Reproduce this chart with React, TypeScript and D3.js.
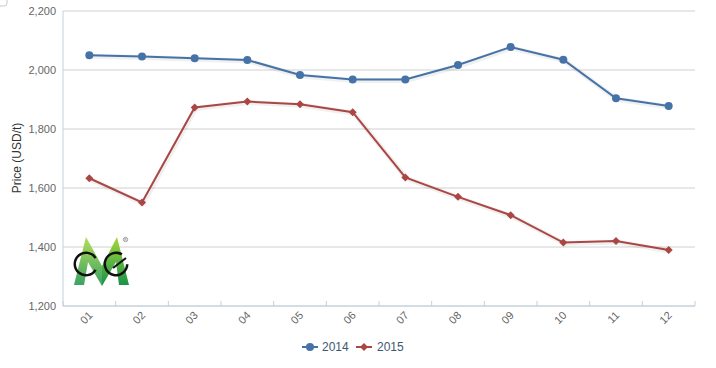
import React from "react";
import * as d3 from "d3";

const months = ["01", "02", "03", "04", "05", "06", "07", "08", "09", "10", "11", "12"];
const values2014 = [2050, 2046, 2040, 2034, 1983, 1968, 1968, 2017, 2078, 2035, 1904, 1878];
const values2015 = [1633, 1551, 1873, 1893, 1884, 1857, 1636, 1570, 1508, 1415, 1420, 1390];
const yTicks = [1200, 1400, 1600, 1800, 2000, 2200];
const seriesNames = ["2014", "2015"];

const W = 716, H = 368;
const L = 63, R = 695, T = 11, B = 306;
const BLUE = "#4572A7";
const RED = "#AA4643";
const FONT = "'Liberation Sans', Arial, Helvetica, sans-serif";

export default function App() {
  const x = d3.scaleBand<string>().domain(months).range([L, R]);
  const y = d3.scaleLinear().domain([1200, 2200]).range([B, T]);
  const bw = x.bandwidth();
  const cx = (m: string) => (x(m) as number) + bw / 2;
  const line = d3.line<number>().x((_, i) => cx(months[i])).y((d) => y(d));
  const fmt = d3.format(",");
  const diamond = (px: number, py: number, s: number) =>
    `M${px},${py - s}L${px + s},${py}L${px},${py + s}L${px - s},${py}Z`;
  const tickXs = d3.range(months.length + 1).map((i) => L + i * bw);

  const arc = d3.arc<any>();
  const c1 = arc({ innerRadius: 10, outerRadius: 12.5, startAngle: Math.PI / 2 + 0.55, endAngle: Math.PI * 2 + Math.PI / 2 - 0.55 } as any) as string;
  const c2 = arc({ innerRadius: 10, outerRadius: 12.5, startAngle: 1.6, endAngle: Math.PI * 2 + 0.55 } as any) as string;

  return (
    <svg width={W} height={H} style={{ position: "absolute", left: 0, top: 0, background: "#fff" }} fontFamily={FONT}>
      <defs>
        <linearGradient id="mgrad" x1="0" y1="0" x2="0" y2="1">
          <stop offset="0" stopColor="#a6d83a" />
          <stop offset="1" stopColor="#17924a" />
        </linearGradient>
      </defs>
      <rect x={-6} y={-6} width={13} height={12} rx={3} fill="#fff" stroke="#c8c8c8" />
      {yTicks.map((t) => (
        <line key={t} x1={L} x2={R} y1={y(t)} y2={y(t)} stroke="#d0d0d0" strokeWidth={1} />
      ))}
      <line x1={L} x2={L} y1={T} y2={B} stroke="#C0D0E0" />
      {yTicks.map((t) => (
        <text key={t} x={56} y={y(t) + 4} textAnchor="end" fontSize={11} fill="#666">
          {fmt(t)}
        </text>
      ))}
      <text transform={`translate(21,158) rotate(-90)`} textAnchor="middle" fontSize={12} fill="#333">
        Price (USD/t)
      </text>
      <line x1={L} x2={R} y1={B} y2={B} stroke="#C0D0E0" />
      {tickXs.map((tx, i) => (
        <line key={i} x1={tx} x2={tx} y1={B - 5} y2={B} stroke="#C0D0E0" />
      ))}
      {months.map((m) => (
        <text key={m} transform={`translate(${cx(m) + 4},${B + 10}) rotate(-45)`} textAnchor="end" fontSize={11} fill="#666">
          {m}
        </text>
      ))}
      <g>
        <path d="M74,285L86,237L102,266L117,237L129,285L119,285L116,262L102,286L88,262L84,285Z" fill="url(#mgrad)" />
        <path d="M74,285L86,237L102,266L102,286L88,262L84,285Z" fill="#ffffff" opacity={0.15} />
        <path d={c1} transform="translate(86,264)" fill="#111" />
        <path d={c2} transform="translate(116,264)" fill="#111" />
        <line x1={113} y1={268} x2={126} y2={258} stroke="#111" strokeWidth={2.2} />
        <circle cx={125.5} cy={239.5} r={2.2} fill="none" stroke="#666" strokeWidth={0.6} />
        <text x={125.5} y={241} textAnchor="middle" fontSize={3.5} fill="#666">R</text>
      </g>
      <path d={line(values2014) as string} fill="none" stroke="#000" strokeOpacity={0.06} strokeWidth={5} transform="translate(1,1)" />
      <path d={line(values2014) as string} fill="none" stroke={BLUE} strokeWidth={2} />
      {values2014.map((v, i) => (
        <circle key={i} cx={cx(months[i])} cy={y(v)} r={4} fill={BLUE} />
      ))}
      <path d={line(values2015) as string} fill="none" stroke="#000" strokeOpacity={0.06} strokeWidth={5} transform="translate(1,1)" />
      <path d={line(values2015) as string} fill="none" stroke={RED} strokeWidth={2} />
      {values2015.map((v, i) => (
        <path key={i} d={diamond(cx(months[i]), y(v), 4)} fill={RED} />
      ))}
      <g>
        <line x1={302} x2={318} y1={347} y2={347} stroke={BLUE} strokeWidth={2} />
        <circle cx={310} cy={347} r={4} fill={BLUE} />
        <text x={322} y={351} fontSize={12} fill="#3E576F">{seriesNames[0]}</text>
        <line x1={356} x2={372} y1={347} y2={347} stroke={RED} strokeWidth={2} />
        <path d={diamond(364, 347, 4)} fill={RED} />
        <text x={377} y={351} fontSize={12} fill="#3E576F">{seriesNames[1]}</text>
      </g>
    </svg>
  );
}
